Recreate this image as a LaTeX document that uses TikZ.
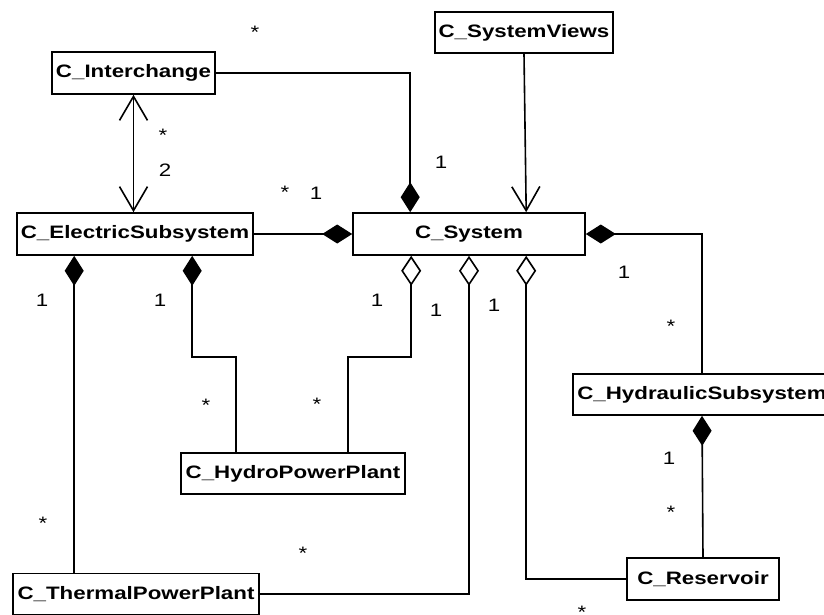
\documentclass[tikz,border=0pt]{standalone}
\usepackage{fontspec}
\setmainfont{Liberation Sans}[FakeStretch=1.24]
\usetikzlibrary{arrows.meta}

\newlength{\du}
\setlength{\du}{1pt}

\tikzset{
  classbox/.style={draw, line width=1.6\du, fill=white, inner sep=0pt,
    minimum height=42\du, font=\fontsize{18}{20}\selectfont\bfseries},
  mult/.style={inner sep=0pt, font=\fontsize{18}{20}\selectfont},
  assoc/.style={line width=1.6\du},
  comp/.style={-{Diamond[length=30pt,width=19pt]}},
  aggr/.style={-{Diamond[open,length=30pt,width=20pt]}},
  nav/.style={-{Straight Barb[length=24pt,width=28pt]}},
  bothnav/.style={{Straight Barb[length=24pt,width=28pt]}-{Straight Barb[length=24pt,width=28pt]}}
}

\begin{document}
\begin{tikzpicture}
\pgftransformxscale{1.000000}
\pgftransformyscale{-1.000000}
\useasboundingbox (0\du,0\du) rectangle (824\du,614\du);
% classes
\node[classbox, minimum width=163\du] (inter) at (133.5\du,73\du) {C\_Interchange};
\node[classbox, minimum width=178\du, minimum height=41\du] (views) at (524\du,32.5\du) {C\_SystemViews};
\node[classbox, minimum width=236\du] (elec) at (135\du,234\du) {C\_ElectricSubsystem};
\node[classbox, minimum width=232\du] (sys) at (469\du,234\du) {C\_System};
\node[classbox, minimum width=258\du, minimum height=41\du] (hydra) at (702\du,394.5\du) {C\_HydraulicSubsystem};
\node[classbox, minimum width=224\du, minimum height=41\du] (hydro) at (293\du,473.5\du) {C\_HydroPowerPlant};
\node[classbox, minimum width=246\du, minimum height=41\du] (thermal) at (136\du,594\du) {C\_ThermalPowerPlant};
\node[classbox, minimum width=152\du] (reserv) at (703\du,579\du) {C\_Reservoir};
% associations
\draw[assoc, comp] (inter.east) -| ([xshift=58\du]sys.north west);
\draw[assoc, nav] (views.south) -- ([xshift=174\du]sys.north west);
\draw[assoc, bothnav] (inter.south) -- (inter.south |- elec.north);
\draw[assoc, comp] (elec.east) -- (sys.west);
\draw[assoc, comp] (hydra.north) |- (sys.east);
\draw[assoc, comp] (reserv.north) -- (hydra.south);
\draw[assoc, aggr] (reserv.west) -| ([xshift=174\du]sys.south west);
\draw[assoc, aggr] (thermal.east) -| (sys.south);
\draw[assoc, aggr] ([xshift=168\du]hydro.north west) -- ++(0\du,-95\du) -| ([xshift=59\du]sys.south west);
\draw[assoc, comp] ([xshift=56\du]hydro.north west) -- ++(0\du,-95\du) -| ([xshift=176\du]elec.south west);
\draw[assoc, comp] ([xshift=62\du]thermal.north west) -- ([xshift=58\du]elec.south west);
% multiplicities
\node[mult] (m1) at (255\du,32\du) {*};
\node[mult] (m2) at (163\du,135\du) {*};
\node[mult] (m3) at (165\du,170\du) {2};
\node[mult] (m4) at (285\du,192\du) {*};
\node[mult] (m5) at (316\du,193\du) {1};
\node[mult] (m6) at (441\du,162\du) {1};
\node[mult] (m7) at (624\du,272\du) {1};
\node[mult] (m8) at (671\du,326\du) {*};
\node[mult] (m9) at (42\du,300\du) {1};
\node[mult] (m10) at (160\du,300\du) {1};
\node[mult] (m11) at (377\du,300\du) {1};
\node[mult] (m12) at (436\du,310\du) {1};
\node[mult] (m13) at (494\du,305\du) {1};
\node[mult] (m14) at (206\du,405\du) {*};
\node[mult] (m15) at (317\du,404\du) {*};
\node[mult] (m16) at (43\du,523\du) {*};
\node[mult] (m17) at (303\du,553\du) {*};
\node[mult] (m18) at (669\du,458\du) {1};
\node[mult] (m19) at (671\du,512\du) {*};
\node[mult] (m20) at (582\du,612\du) {*};
\end{tikzpicture}
\end{document}
